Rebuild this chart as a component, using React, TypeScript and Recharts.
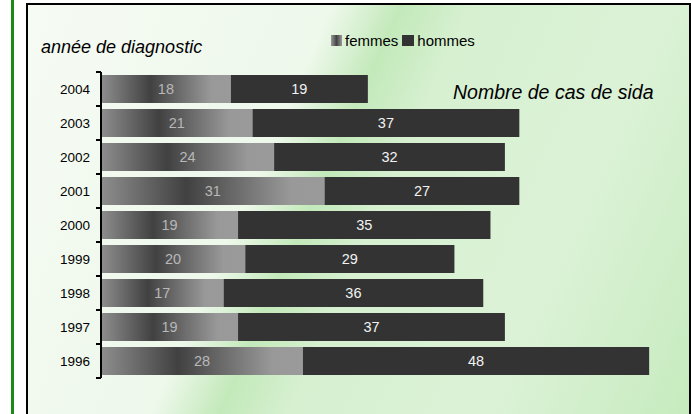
import { BarChart, Bar, XAxis, YAxis, LabelList } from "recharts";

// années de diagnostic, du haut vers le bas
const years = ["2004", "2003", "2002", "2001", "2000", "1999", "1998", "1997", "1996"];
const femmes = [18, 21, 24, 31, 19, 20, 17, 19, 28];
const hommes = [19, 37, 32, 27, 35, 29, 36, 37, 48];

const FONT = "'Liberation Sans', Arial, sans-serif";

const data = years.map((y, i) => ({ year: y, femmes: femmes[i], hommes: hommes[i] }));

// tick with a short mark between categories (Excel style)
function YearTick(props: any) {
  const { x, y, payload, index, visibleTicksCount } = props;
  const half = payload.offset || 0;
  const axisX = x + 11;
  const last = index === visibleTicksCount - 1;
  return (
    <g>
      <text x={x} y={y} dy={5} textAnchor="end" fontSize={13.5} fontFamily={FONT} fill="#000">
        {payload.value}
      </text>
      <line x1={axisX - 5} x2={axisX} y1={y - half} y2={y - half} stroke="#000" strokeWidth={2} />
      {last && (
        <line x1={axisX - 5} x2={axisX} y1={y + half} y2={y + half} stroke="#000" strokeWidth={2} />
      )}
    </g>
  );
}

function LegendBox() {
  const item = { display: "inline-flex", alignItems: "center", marginRight: 4 };
  return (
    <div style={{ fontFamily: FONT, fontSize: 15, lineHeight: 1.15, color: "#000", display: "flex" }}>
      <span style={item}>
        <span
          style={{
            width: 11,
            height: 11,
            marginRight: 3,
            background: "linear-gradient(90deg,#999,#444 50%,#999)",
            display: "inline-block",
          }}
        />
        femmes
      </span>
      <span style={item}>
        <span style={{ width: 12, height: 11, marginRight: 3, background: "#333", display: "inline-block" }} />
        hommes
      </span>
    </div>
  );
}

export default function App() {
  return (
    <div style={{ position: "absolute", left: 0, top: 0, width: 691, height: 414, background: "#fff", overflow: "hidden" }}>
      <div style={{ position: "absolute", left: 11, top: 0, width: 3, height: 414, background: "#1a8a1a" }} />
      <div
        style={{
          position: "absolute",
          left: 26,
          top: 3,
          width: 661,
          height: 420,
          borderTop: "2px solid #000",
          borderLeft: "2px solid #000",
          borderRight: "2px solid #000",
          background:
            "linear-gradient(114deg, #f6fbf4 0%, #eef8eb 36%, #c3e9ba 44%, #d6f0d0 52%, #dcf2d7 75%, #c6ebbe 100%)",
        }}
      />
      <div style={{ position: "absolute", left: 41, top: 37, fontFamily: FONT, fontStyle: "italic", fontSize: 18, lineHeight: 1.15 }}>
        année de diagnostic
      </div>
      <div style={{ position: "absolute", left: 453, top: 81, fontFamily: FONT, fontStyle: "italic", fontSize: 19.5, lineHeight: 1.15 }}>
        Nombre de cas de sida
      </div>
      <div style={{ position: "absolute", left: 331, top: 32 }}>
        <LegendBox />
      </div>
      <div style={{ position: "absolute", left: 0, top: 0 }}>
        <BarChart
          width={691}
          height={414}
          data={data}
          layout="vertical"
          margin={{ top: 72, right: 13, bottom: 36, left: 0 }}
          barCategoryGap={3}
        >
          <defs>
            <linearGradient id="fem" x1="0" y1="0" x2="1" y2="0">
              <stop offset="0%" stopColor="#8e8e8e" />
              <stop offset="38%" stopColor="#414141" />
              <stop offset="85%" stopColor="#999" />
              <stop offset="100%" stopColor="#9a9a9a" />
            </linearGradient>
          </defs>
          <XAxis type="number" domain={[0, 80]} hide />
          <YAxis
            type="category"
            dataKey="year"
            width={101}
            tickSize={6}
            tickMargin={5}
            tickLine={false}
            axisLine={{ stroke: "#000", strokeWidth: 2 }}
            tick={<YearTick />}
            interval={0}
          />
          <Bar dataKey="femmes" stackId="a" fill="url(#fem)" isAnimationActive={false}>
            <LabelList dataKey="femmes" position="center" fill="#b8b8b8" fontSize={14.5} fontFamily={FONT} />
          </Bar>
          <Bar dataKey="hommes" stackId="a" fill="#333333" isAnimationActive={false}>
            <LabelList dataKey="hommes" position="center" fill="#f2f2f2" fontSize={14.5} fontFamily={FONT} />
          </Bar>
        </BarChart>
      </div>
    </div>
  );
}
